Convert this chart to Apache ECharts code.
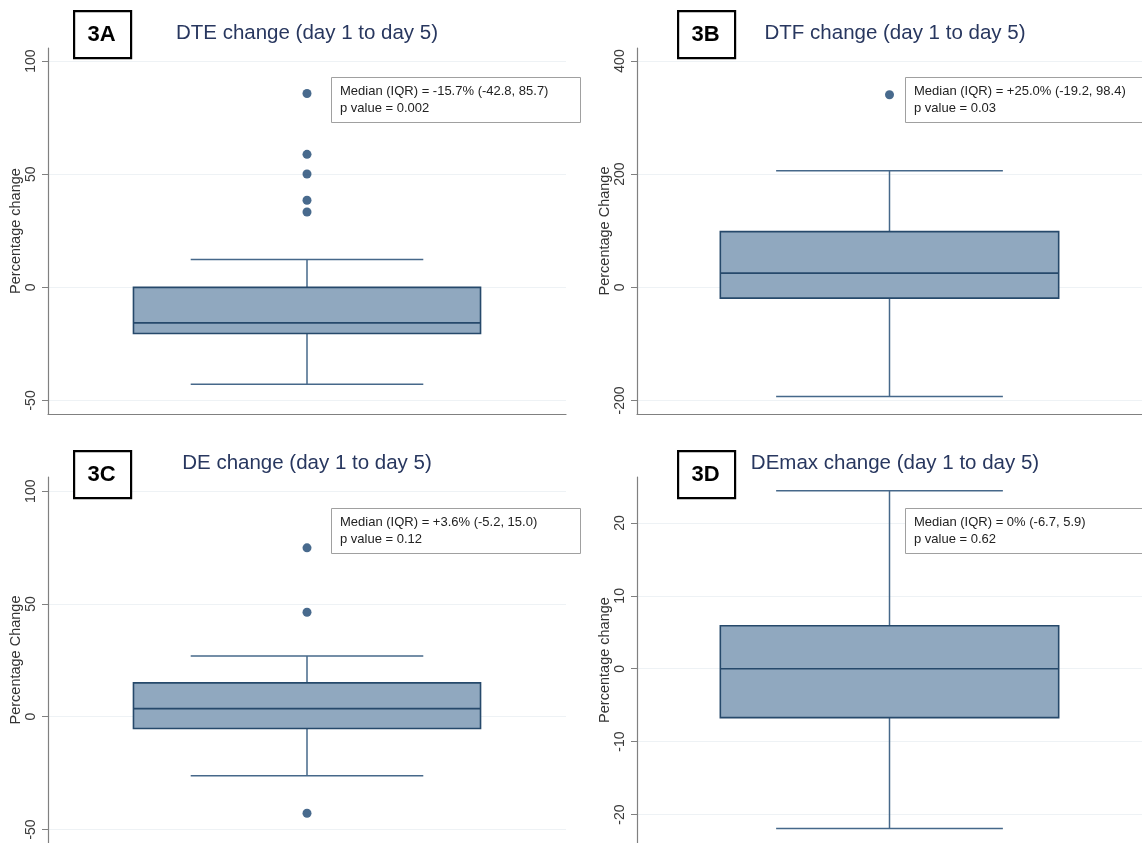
<!DOCTYPE html>
<html><head><meta charset="utf-8">
<script src="https://cdn.jsdelivr.net/npm/echarts@6/dist/echarts.min.js"></script>
<style>html,body{margin:0;padding:0;background:#fff}#c{width:1142px;height:843px}</style>
</head><body><div id="c"></div>
<script>
// ---------- data ----------
const panelLabels = ['3A', '3B', '3C', '3D'];
const titles = ['DTE change (day 1 to day 5)', 'DTF change (day 1 to day 5)', 'DE change (day 1 to day 5)', 'DEmax change (day 1 to day 5)'];
const yNames = ['Percentage change', 'Percentage Change', 'Percentage Change', 'Percentage change'];

const ticksA = [-50, 0, 50, 100];
const ticksB = [-200, 0, 200, 400];
const ticksC = [-50, 0, 50, 100];
const ticksD = [-20, -10, 0, 10, 20];

const rangeA = [-56, 105.8];
const rangeB = [-224, 423];
const rangeC = [-56, 106.3];
const rangeD = [-23.9, 26.3];

// [lower whisker, Q1, median, Q3, upper whisker]
const boxA = [-42.8, -20.4, -15.7, 0, 12.3];
const boxB = [-193, -19.2, 25.0, 98.4, 205.8];
const boxC = [-26.2, -5.2, 3.6, 15.0, 26.9];
const boxD = [-21.9, -6.7, 0, 5.9, 24.4];

const outliersA = [85.7, 58.8, 50.1, 38.5, 33.3];
const outliersB = [340.4];
const outliersC = [74.9, 46.3, -42.8];
const outliersD = [];

const notes = [
  'Median (IQR) = -15.7% (-42.8, 85.7)\np value = 0.002',
  'Median (IQR) = +25.0% (-19.2, 98.4)\np value = 0.03',
  'Median (IQR) = +3.6% (-5.2, 15.0)\np value = 0.12',
  'Median (IQR) = 0% (-6.7, 5.9)\np value = 0.62'
];

// ---------- layout ----------
const grids = [
  {left: 48, top: 48, width: 518, height: 366},
  {left: 637, top: 48, width: 516, height: 366},
  {left: 48, top: 477, width: 518, height: 367},
  {left: 637, top: 477, width: 516, height: 367}
];
const labelBoxes = [[73, 10], [677, 10], [73, 450], [677, 450]];
const noteBoxes = [[331, 77, 249], [905, 77, 260], [331, 508, 249], [905, 508, 260]];
const titleCenters = [[307, 33], [895, 33], [307, 463], [895, 463]];

const BOX_HALF = 0.67, CAP_HALF = 0.449;
const ticks = [ticksA, ticksB, ticksC, ticksD];
const ranges = [rangeA, rangeB, rangeC, rangeD];
const boxes = [boxA, boxB, boxC, boxD];
const outs = [outliersA, outliersB, outliersC, outliersD];

const BOX_FILL = '#90a8bf', BOX_EDGE = '#26496b', WHISK = '#46688a', DOT = '#1a4570';
const AXIS = '#808080';

function renderBox(params, api) {
  const x = api.value(0);
  const lo = api.value(1), q1 = api.value(2), md = api.value(3), q3 = api.value(4), hi = api.value(5);
  const c = (a, b) => api.coord([a, b]);
  const ln = (p1, p2, stroke, lw) => ({type: 'line', shape: {x1: p1[0], y1: p1[1], x2: p2[0], y2: p2[1]}, style: {stroke: stroke, lineWidth: lw}});
  const tl = c(x - BOX_HALF, q3), br = c(x + BOX_HALF, q1);
  return {type: 'group', children: [
    ln(c(x, q3), c(x, hi), WHISK, 1.5),
    ln(c(x, q1), c(x, lo), WHISK, 1.5),
    ln(c(x - CAP_HALF, hi), c(x + CAP_HALF, hi), WHISK, 1.5),
    ln(c(x - CAP_HALF, lo), c(x + CAP_HALF, lo), WHISK, 1.5),
    {type: 'rect', shape: {x: tl[0], y: tl[1], width: br[0] - tl[0], height: br[1] - tl[1]}, style: {fill: BOX_FILL, stroke: BOX_EDGE, lineWidth: 1.6}},
    ln(c(x - BOX_HALF, md), c(x + BOX_HALF, md), BOX_EDGE, 1.6)
  ]};
}

const xAxes = [], yAxes = [], series = [], graphics = [];
for (let i = 0; i < 4; i++) {
  xAxes.push({gridIndex: i, type: 'value', min: 0, max: 2,
    axisLine: {show: true, onZero: false, lineStyle: {color: AXIS, width: 1.2}},
    axisTick: {show: false}, axisLabel: {show: false}, splitLine: {show: false}});
  yAxes.push({gridIndex: i, type: 'value', min: ranges[i][0], max: ranges[i][1],
    name: yNames[i], nameLocation: 'middle', nameGap: 22,
    nameTextStyle: {fontFamily: 'Liberation Sans', fontSize: 14.5, color: '#333'},
    axisLine: {show: true, onZero: false, lineStyle: {color: AXIS, width: 1.2}},
    axisTick: {show: true, length: 6, customValues: ticks[i], lineStyle: {color: AXIS}},
    axisLabel: {rotate: 90, margin: 10, customValues: ticks[i], fontFamily: 'Liberation Sans', fontSize: 14, color: '#3a3a3a'},
    splitLine: {show: true, lineStyle: {color: '#eef2f5', width: 1}}});
  series.push({type: 'custom', xAxisIndex: i, yAxisIndex: i, renderItem: renderBox,
    encode: {x: 0, y: [1, 2, 3, 4, 5]}, data: [[1].concat(boxes[i])], silent: true});
  series.push({type: 'scatter', xAxisIndex: i, yAxisIndex: i, symbol: 'circle', symbolSize: 9,
    itemStyle: {color: DOT}, data: outs[i].map(v => [1, v]), silent: true});

  const lb = labelBoxes[i];
  graphics.push({type: 'rect', left: lb[0], top: lb[1], shape: {width: 57, height: 47},
    style: {fill: '#fff', stroke: '#000', lineWidth: 2.2}, z: 10});
  graphics.push({type: 'text', x: lb[0] + 28.5, y: lb[1] + 24.5, z: 11,
    style: {text: panelLabels[i], fontFamily: 'Liberation Sans', fontWeight: 'bold', fontSize: 22, fill: '#000', align: 'center', verticalAlign: 'middle'}});

  const tc = titleCenters[i];
  graphics.push({type: 'text', x: tc[0], y: tc[1], z: 11,
    style: {text: titles[i], fontFamily: 'Liberation Sans', fontSize: 20.5, fill: '#28375f', align: 'center', verticalAlign: 'middle'}});

  const nb = noteBoxes[i];
  graphics.push({type: 'rect', shape: {x: nb[0] + 0.5, y: nb[1] + 0.5, width: nb[2], height: 45},
    style: {fill: '#fff', stroke: '#a0a0a0', lineWidth: 1}, z: 10});
  graphics.push({type: 'text', x: nb[0] + 9, y: nb[1] + 23, z: 11,
    style: {text: notes[i], fontFamily: 'Liberation Sans', fontSize: 13, lineHeight: 17.5, fill: '#222', align: 'left', verticalAlign: 'middle'}});
}

const chart = echarts.init(document.getElementById('c'), null, {renderer: 'canvas'});
chart.setOption({
  animation: false,
  backgroundColor: '#fff',
  grid: grids.map(g => Object.assign({containLabel: false}, g)),
  xAxis: xAxes,
  yAxis: yAxes,
  series: series,
  graphic: graphics
});
</script></body></html>
